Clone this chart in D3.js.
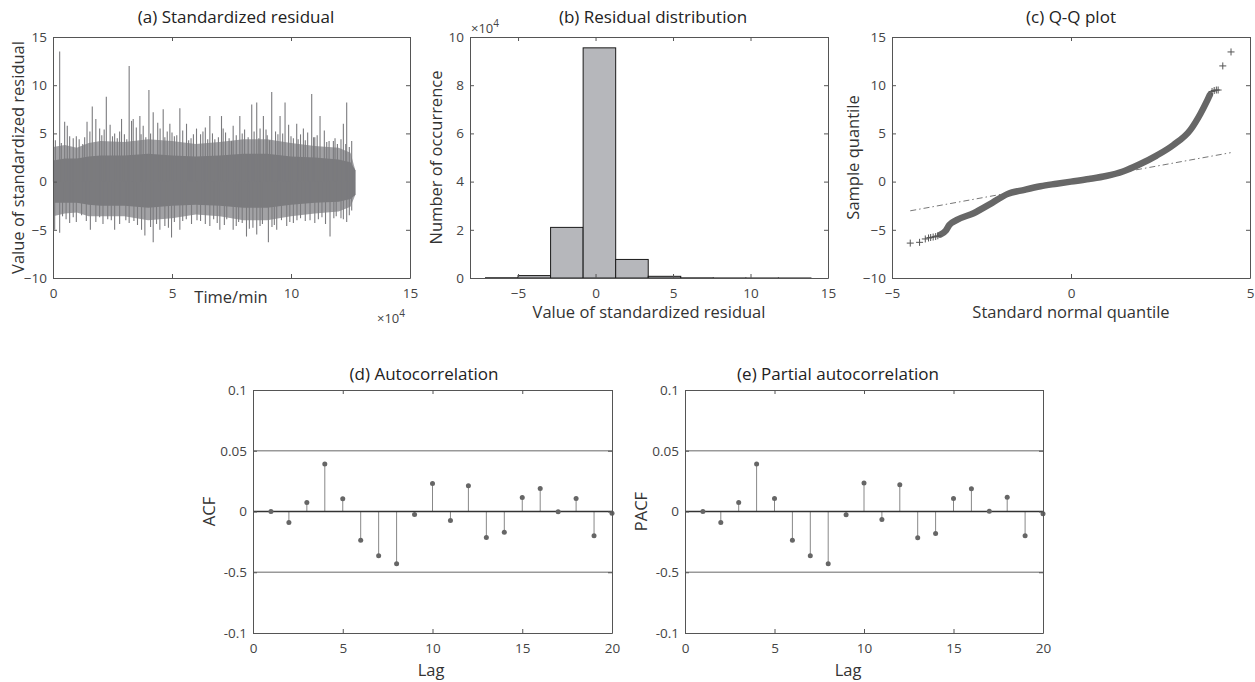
<!DOCTYPE html>
<meta charset="utf-8">
<head>
  <title>Residual diagnostics</title>
</head>
<style>
body { margin: 0; background: #fff; }
svg text { font-family: "Open Sans", sans-serif; }
.tick text { fill: #444; font-size: 13.5px; }
.title { fill: #222; font-size: 17px; text-anchor: middle; }
.label { fill: #333; font-size: 16.5px; text-anchor: middle; }
.frame path.domain, .frame line { stroke: #555; }
</style>
<body>
<script src="https://d3js.org/d3.v7.min.js"></script>
<script>

// (a) standardized residual, time in units of 1e4 min
// upper spikes
var peakT = [0.02, 0.1, 0.28, 0.49, 0.6, 0.7, 0.98, 1.1, 1.25, 1.43, 1.65, 1.8, 1.96, 2.05, 2.24, 2.4, 2.59, 2.7, 2.88, 3.0,
             3.2, 3.37, 3.5, 3.65, 3.79, 3.9, 4.03, 4.21, 4.4, 4.63, 4.8, 4.91, 5.1, 5.33, 5.45, 5.61, 5.8, 6.03, 6.2, 6.4,
             6.59, 6.8, 7.08, 7.25, 7.4, 7.57, 7.7, 7.85, 8.05, 8.2, 8.35, 8.56, 8.7, 8.84, 9.0, 9.19, 9.35, 9.54, 9.75, 9.9,
             10.1, 10.24, 10.4, 10.52, 10.7, 10.87, 11.0, 11.22, 11.4, 11.6, 11.78, 11.95, 12.1, 12.2, 12.34, 12.45, 12.55, 12.68,
             0.35, 0.85, 1.33, 1.55, 2.15, 2.5, 2.8, 3.1, 3.3, 3.7, 4.1, 4.5, 4.7, 5.0, 5.2, 5.7, 5.9, 6.3, 6.5, 6.7,
             6.95, 7.15, 7.5, 7.95, 8.45, 8.65, 8.95, 9.1, 9.45, 9.65, 10.0, 10.3, 10.6, 10.95, 11.1, 11.5, 11.85, 12.3];
var peakV = [4.3, 4.3, 13.5, 6.2, 5.8, 4.7, 4.7, 4.4, 3.9, 6.2, 7.8, 6.5, 5.5, 4.8, 8.8, 5.9, 5.0, 4.5, 6.5, 4.9,
             12.0, 6.5, 5.6, 6.8, 5.8, 4.6, 9.5, 7.2, 6.1, 7.5, 5.2, 6.0, 4.7, 7.6, 5.3, 6.0, 4.5, 5.5, 4.9, 5.6,
             6.8, 4.4, 6.8, 5.1, 4.5, 5.8, 4.8, 6.8, 5.4, 4.6, 8.0, 8.2, 5.5, 6.8, 4.8, 9.3, 5.2, 6.8, 8.2, 5.9,
             4.5, 6.0, 4.9, 5.5, 5.1, 9.1, 4.6, 6.8, 5.3, 4.2, 4.2, 3.9, 4.4, 6.0, 8.2, 3.6, 4.2, 1.2,
             4.0, 4.5, 4.6, 5.2, 5.4, 4.7, 5.2, 4.4, 6.3, 4.9, 5.0, 5.5, 4.6, 5.1, 4.8, 4.3, 4.9, 5.2, 4.4, 5.0,
             4.6, 5.5, 4.2, 5.0, 5.2, 4.5, 5.4, 4.3, 4.9, 5.0, 4.7, 4.4, 4.3, 4.6, 4.8, 4.1, 4.5, 3.9];
// lower spikes
var troughT = [0.07, 0.28, 0.4, 0.7, 0.98, 1.2, 1.57, 1.8, 1.96, 2.3, 2.59, 2.8, 3.06, 3.4, 3.72, 3.86, 4.1, 4.21, 4.49, 4.7,
               4.98, 5.1, 5.33, 5.6, 5.82, 6.2, 6.59, 6.9, 7.01, 7.3, 7.57, 7.8, 8.13, 8.4, 8.56, 8.8, 9.05, 9.2, 9.4, 9.6,
               9.82, 10.1, 10.4, 10.8, 11.0, 11.3, 11.64, 11.9, 12.1, 12.34, 12.55, 12.68,
               0.55, 0.85, 1.4, 2.1, 2.45, 3.2, 3.55, 4.35, 4.85, 5.45, 6.05, 6.4, 6.75, 7.2, 7.7, 7.95, 8.25, 8.7, 9.3, 9.95,
               10.25, 10.6, 11.15, 11.45, 11.8, 12.2, 12.45];
var troughV = [-5.0, -5.3, -3.6, -4.3, -4.2, -3.5, -5.0, -4.2, -3.7, -3.9, -5.0, -4.4, -4.0, -4.1, -5.0, -5.6, -4.7, -6.3, -5.0, -4.6,
               -5.8, -4.2, -5.0, -3.9, -4.4, -4.1, -4.6, -4.3, -5.0, -3.9, -5.0, -4.2, -5.7, -4.8, -5.5, -4.4, -6.3, -4.7, -5.0, -4.0,
               -4.6, -4.3, -3.8, -4.0, -4.3, -3.7, -5.7, -3.6, -3.8, -4.2, -3.0, -1.4,
               -3.9, -3.7, -4.1, -4.4, -4.0, -4.3, -4.5, -4.4, -4.8, -4.1, -4.0, -4.4, -3.9, -4.5, -4.6, -4.3, -4.9, -4.6, -4.5, -4.2,
               -4.0, -4.1, -3.9, -4.4, -3.8, -3.9, -3.5];
// dense core of the trace and the textured band round it
var coreT = [0, 0.5, 1, 1.5, 2, 3, 4, 5, 6, 7, 8, 9, 10, 11, 12, 12.5, 12.7];
var coreUp = [2.2, 2.4, 2.4, 2.6, 2.7, 2.7, 2.9, 2.7, 2.6, 2.7, 2.9, 2.9, 2.6, 2.5, 2.3, 2.0, 1.2];
var coreDown = [-2.2, -2.2, -2.2, -2.4, -2.5, -2.5, -2.7, -2.5, -2.4, -2.5, -2.7, -2.7, -2.4, -2.2, -2.1, -1.8, -1.4];
var bandUp = [3.6, 3.8, 3.5, 4.0, 4.2, 4.1, 4.4, 4.2, 3.9, 4.1, 4.4, 4.4, 4.0, 3.7, 3.5, 3.0, 1.2];
var bandDown = [-3.6, -3.3, -3.2, -3.6, -3.6, -3.6, -4.0, -3.8, -3.4, -3.6, -4.0, -4.0, -3.6, -3.3, -3.1, -2.6, -1.4];

// (b) histogram, counts in units of 1e4
var binEdges = [-7.1, -5.0, -2.9, -0.8, 1.3, 3.4, 5.5, 7.6, 9.7, 11.8, 13.9];
var binCounts = [0.01, 0.1, 2.1, 9.55, 0.77, 0.07, 0.006, 0.002, 0.001, 0.0005];

// (c) Q-Q plot
var qqX = [-3.65, -3.5, -3.4, -3.2, -2.72, -2.2, -1.78, -1.3, -0.85, -0.4, 0, 0.5, 0.98, 1.45, 1.92, 2.39, 2.86, 3.33, 3.62, 3.81, 3.88];
var qqY = [-5.5, -5.1, -4.5, -4.0, -3.28, -2.2, -1.3, -0.85, -0.48, -0.22, 0, 0.27, 0.58, 1.05, 1.8, 2.7, 3.8, 5.34, 7.07, 8.45, 9.0];
var tailX = [-4.49, -4.23, -4.07, -3.98, -3.92, -3.85, -3.78, -3.72, 3.94, 4.0, 4.06, 4.11, 4.24, 4.47];
var tailY = [-6.38, -6.3, -5.95, -5.85, -5.8, -5.75, -5.7, -5.62, 9.35, 9.45, 9.5, 9.5, 12.0, 13.45];
var refX = [-4.49, 4.46];
var refY = [-3.03, 3.0];

// (d), (e) autocorrelation
var lags = d3.range(1, 21);
var acf = [0.0, -0.009, 0.0074, 0.039, 0.0104, -0.0236, -0.0365, -0.0431, -0.0025, 0.0231,
           -0.0074, 0.0212, -0.0214, -0.017, 0.0115, 0.019, -0.0003, 0.0107, -0.02, -0.0014];
var pacf = [0.0, -0.009, 0.0074, 0.039, 0.0107, -0.0236, -0.0365, -0.0431, -0.0027, 0.0234,
            -0.0066, 0.022, -0.0217, -0.0181, 0.0107, 0.0187, 0.0003, 0.0118, -0.02, -0.0019];
var corrTicks = [-0.1, -0.05, 0, 0.05, 0.1];
var corrTickLabels = ["-0.1", "-0.5", "0", "0.05", "0.1"];

var svg = d3.select("body").append("svg")
    .attr("width", 1255)
    .attr("height", 682);

// set up a panel: scales for a box
function panel(box, xDom, yDom) {
  return {
    box: box,
    x: d3.scaleLinear().domain(xDom).range([box.x0, box.x1]),
    y: d3.scaleLinear().domain(yDom).range([box.y1, box.y0]),
    g: svg.append("g")
  };
}

// box with inward ticks on all four sides
function frame(p, xTicks, yTicks, yFmt) {
  var b = p.box;
  p.g.append("g").attr("class", "frame")
      .attr("transform", "translate(0," + b.y1 + ")")
      .call(d3.axisBottom(p.x).tickValues(xTicks).tickSizeInner(-4).tickSizeOuter(0).tickPadding(10));
  p.g.append("g").attr("class", "frame")
      .attr("transform", "translate(0," + b.y0 + ")")
      .call(d3.axisTop(p.x).tickValues(xTicks).tickSizeInner(-4).tickSizeOuter(0).tickFormat(""));
  p.g.append("g").attr("class", "frame")
      .attr("transform", "translate(" + b.x0 + ",0)")
      .call(d3.axisLeft(p.y).tickValues(yTicks).tickSizeInner(-4).tickSizeOuter(0).tickPadding(6)
        .tickFormat(yFmt || d3.format("")));
  p.g.append("g").attr("class", "frame")
      .attr("transform", "translate(" + b.x1 + ",0)")
      .call(d3.axisRight(p.y).tickValues(yTicks).tickSizeInner(-4).tickSizeOuter(0).tickFormat(""));
  p.g.selectAll(".frame .tick text").attr("fill", "#444");
}

// title, x label and y label at given positions
function texts(p, title, tx, ty, xl, xlx, xly, yl, ylx) {
  var b = p.box;
  p.g.append("text").attr("class", "title")
      .attr("x", tx).attr("y", ty)
      .text(title);
  p.g.append("text").attr("class", "label")
      .attr("x", xlx).attr("y", xly)
      .text(xl);
  p.g.append("text").attr("class", "label")
      .attr("transform", "translate(" + ylx + "," + ((b.y0 + b.y1) / 2) + ") rotate(-90)")
      .text(yl);
}

function exponent(p, x, y) {
  var t = p.g.append("text").attr("x", x).attr("y", y)
      .attr("fill", "#444").style("font-size", "13px");
  t.append("tspan").text("\u00d710");
  t.append("tspan").attr("dy", -6).style("font-size", "10px").text("4");
}

// ---------- (a) ----------
var pa = panel({x0: 53, x1: 410, y0: 37, y1: 278}, [0, 15], [-10, 15]);
var bandArea = d3.area()
    .x(function(d, i) { return pa.x(coreT[i]); })
    .y0(function(d, i) { return pa.y(bandDown[i]); })
    .y1(function(d, i) { return pa.y(bandUp[i]); });
pa.g.append("path").datum(coreT)
    .attr("fill", "#a2a2a5")
    .attr("d", bandArea);
var coreArea = d3.area()
    .x(function(d, i) { return pa.x(coreT[i]); })
    .y0(function(d, i) { return pa.y(coreDown[i]); })
    .y1(function(d, i) { return pa.y(coreUp[i]); });
pa.g.append("path").datum(coreT)
    .attr("fill", "#7b7b7e")
    .attr("d", coreArea);
pa.g.selectAll(".peak").data(peakT).enter().append("line")
    .attr("x1", function(d) { return pa.x(d); })
    .attr("x2", function(d) { return pa.x(d); })
    .attr("y1", pa.y(0))
    .attr("y2", function(d, i) { return pa.y(peakV[i]); })
    .attr("stroke", "#7b7b7e").attr("stroke-width", 1.1);
pa.g.selectAll(".trough").data(troughT).enter().append("line")
    .attr("x1", function(d) { return pa.x(d); })
    .attr("x2", function(d) { return pa.x(d); })
    .attr("y1", pa.y(0))
    .attr("y2", function(d, i) { return pa.y(troughV[i]); })
    .attr("stroke", "#7b7b7e").attr("stroke-width", 1.1);
frame(pa, [0, 5, 10, 15], [-10, -5, 0, 5, 10, 15]);
texts(pa, "(a) Standardized residual", 236, 23, "Time/min", 231, 303, "Value of standardized residual", 24);
exponent(pa, 377, 323);

// ---------- (b) ----------
var pb = panel({x0: 470, x1: 828, y0: 37, y1: 278}, [-8.1, 15], [0, 10]);
pb.g.selectAll(".bar").data(binCounts).enter().append("rect")
    .attr("x", function(d, i) { return pb.x(binEdges[i]); })
    .attr("width", function(d, i) { return pb.x(binEdges[i + 1]) - pb.x(binEdges[i]); })
    .attr("y", function(d) { return pb.y(d); })
    .attr("height", function(d) { return pb.y(0) - pb.y(d); })
    .attr("fill", "#b6b7bb")
    .attr("stroke", "#1a1a1a").attr("stroke-width", 1);
frame(pb, [-5, 0, 5, 10, 15], [0, 2, 4, 6, 8, 10]);
texts(pb, "(b) Residual distribution", 653, 23, "Value of standardized residual", 649, 318, "Number of occurrence", 442);
exponent(pb, 471, 33);

// ---------- (c) ----------
var pc = panel({x0: 892, x1: 1250, y0: 37, y1: 278}, [-5, 5], [-10, 15]);
var refLine = d3.line()
    .x(function(d, i) { return pc.x(refX[i]); })
    .y(function(d, i) { return pc.y(refY[i]); });
pc.g.append("path").datum(refX)
    .attr("fill", "none").attr("stroke", "#777").attr("stroke-width", 1)
    .attr("stroke-dasharray", "6,3,1.5,3")
    .attr("d", refLine);
var qqLine = d3.line()
    .curve(d3.curveMonotoneX)
    .x(function(d, i) { return pc.x(qqX[i]); })
    .y(function(d, i) { return pc.y(qqY[i]); });
pc.g.append("path").datum(qqX)
    .attr("fill", "none").attr("stroke", "#676767").attr("stroke-width", 6.5)
    .attr("stroke-linecap", "round")
    .attr("d", qqLine);
pc.g.selectAll(".tail").data(tailX).enter().append("path")
    .attr("transform", function(d, i) { return "translate(" + pc.x(d) + "," + pc.y(tailY[i]) + ")"; })
    .attr("d", "M-3.5,0H3.5M0,-3.5V3.5")
    .attr("stroke", "#555").attr("stroke-width", 1).attr("fill", "none");
frame(pc, [-5, 0, 5], [-10, -5, 0, 5, 10, 15]);
texts(pc, "(c) Q-Q plot", 1071, 23, "Standard normal quantile", 1071, 318, "Sample quantile", 859);

// ---------- (d), (e) ----------
function corrPanel(box, vals, title, tx, yl, ylx, xlx) {
  var p = panel(box, [0, 20], [-0.1, 0.1]);
  [-0.05, 0.05].forEach(function(v) {
    p.g.append("line")
        .attr("x1", box.x0).attr("x2", box.x1)
        .attr("y1", p.y(v)).attr("y2", p.y(v))
        .attr("stroke", "#999").attr("stroke-width", 1.5);
  });
  p.g.selectAll(".stem").data(vals).enter().append("line")
      .attr("x1", function(d, i) { return p.x(lags[i]); })
      .attr("x2", function(d, i) { return p.x(lags[i]); })
      .attr("y1", p.y(0))
      .attr("y2", function(d) { return p.y(d); })
      .attr("stroke", "#888").attr("stroke-width", 1);
  p.g.append("line")
      .attr("x1", box.x0).attr("x2", box.x1)
      .attr("y1", p.y(0)).attr("y2", p.y(0))
      .attr("stroke", "#333").attr("stroke-width", 1.5);
  p.g.selectAll(".dot").data(vals).enter().append("circle")
      .attr("cx", function(d, i) { return p.x(lags[i]); })
      .attr("cy", function(d) { return p.y(d); })
      .attr("r", 2.5)
      .attr("fill", "#666");
  frame(p, [0, 5, 10, 15, 20], corrTicks, function(d) { return corrTickLabels[corrTicks.indexOf(d)]; });
  texts(p, title, tx, 380, "Lag", xlx, 676, yl, ylx);
}
corrPanel({x0: 253, x1: 612, y0: 390, y1: 633}, acf, "(d) Autocorrelation", 424, "ACF", 215, 431);
corrPanel({x0: 685, x1: 1043, y0: 390, y1: 633}, pacf, "(e) Partial autocorrelation", 838, "PACF", 647, 848);

</script>
</body>
